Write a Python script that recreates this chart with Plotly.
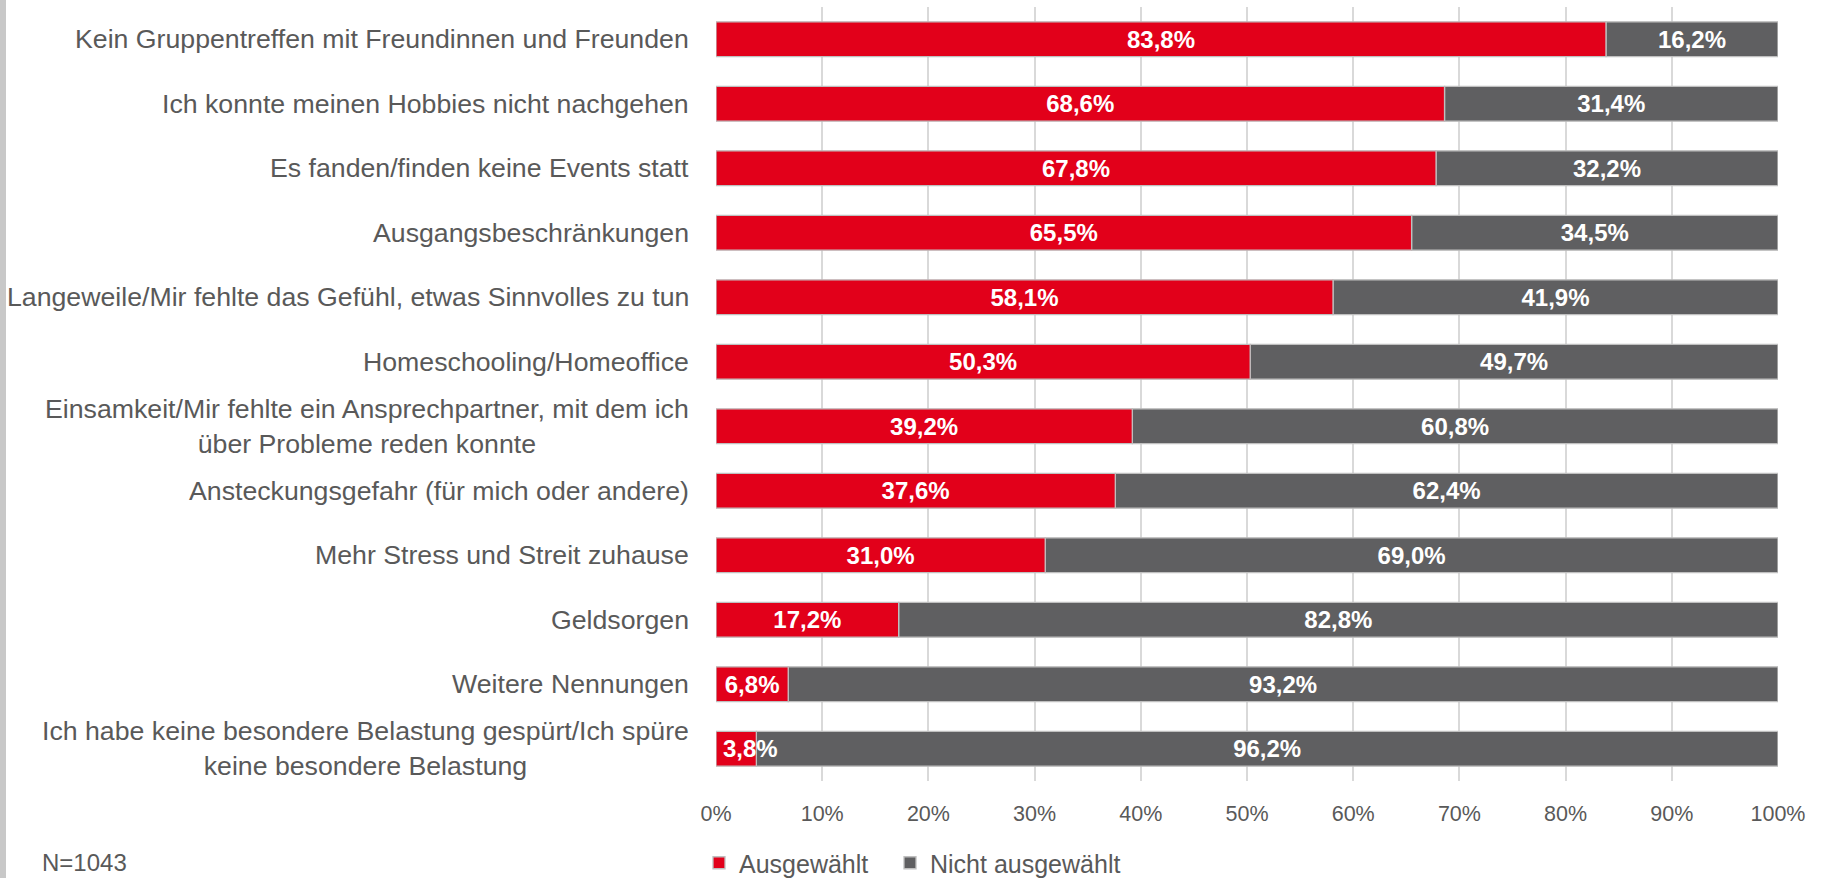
import plotly.graph_objects as go

categories = [
    "Kein Gruppentreffen mit Freundinnen und Freunden",
    "Ich konnte meinen Hobbies nicht nachgehen",
    "Es fanden/finden keine Events statt",
    "Ausgangsbeschränkungen",
    "Langeweile/Mir fehlte das Gefühl, etwas Sinnvolles zu tun",
    "Homeschooling/Homeoffice",
    "Einsamkeit/Mir fehlte ein Ansprechpartner, mit dem ich<br>über Probleme reden konnte",
    "Ansteckungsgefahr (für mich oder andere)",
    "Mehr Stress und Streit zuhause",
    "Geldsorgen",
    "Weitere Nennungen",
    "Ich habe keine besondere Belastung gespürt/Ich spüre<br>keine besondere Belastung",
]
ausgewaehlt = [83.8, 68.6, 67.8, 65.5, 58.1, 50.3, 39.2, 37.6, 31.0, 17.2, 6.8, 3.8]
nicht_ausgewaehlt = [16.2, 31.4, 32.2, 34.5, 41.9, 49.7, 60.8, 62.4, 69.0, 82.8, 93.2, 96.2]
x_ticks = [0, 10, 20, 30, 40, 50, 60, 70, 80, 90, 100]
x_ticklabels = [f"{t}%" for t in x_ticks]
note = "N=1043"

RED = "#E2001A"
GRAY = "#5F5F61"
OUTLINE = "#BFBFBF"
TXT = "#595959"
FONT = "Liberation Sans, Arial, sans-serif"
MIN_INSIDE = 5  # bars narrower than this get their label placed from the axis


def fmt(v):
    return f"{v:.1f}".replace(".", ",") + "%"


W, H = 1827, 878
L, R, T, B = 716, 49, 7, 97
pw = W - L - R
ph = H - T - B
BOTTOM_ROW_Y = 863  # pixel centre of the note / legend row
label_font = dict(family=FONT, size=24, color="white", weight="bold")

fig = go.Figure()
fig.add_trace(go.Bar(
    name="Nicht ausgewählt",
    y=categories, x=nicht_ausgewaehlt, base=ausgewaehlt, orientation="h",
    width=0.54,
    marker=dict(color=GRAY, line=dict(color=OUTLINE, width=1.3)),
    text=[fmt(v) for v in nicht_ausgewaehlt],
    textposition="inside", insidetextanchor="middle", constraintext="none",
    textfont=label_font,
    hoverinfo="skip",
))
fig.add_trace(go.Bar(
    name="Ausgewählt",
    y=categories, x=ausgewaehlt, base=[0] * len(ausgewaehlt), orientation="h",
    width=0.54,
    marker=dict(color=RED, line=dict(color=OUTLINE, width=1.3)),
    text=[fmt(v) for v in ausgewaehlt],
    textposition=["inside" if v >= MIN_INSIDE else "none" for v in ausgewaehlt],
    insidetextanchor="middle", constraintext="none",
    textfont=label_font,
    hoverinfo="skip",
    legendwidth=146,
))

# labels of very narrow red bars, starting just right of the axis
for c, v in zip(categories, ausgewaehlt):
    if v < MIN_INSIDE:
        fig.add_annotation(
            x=0, xref="x", y=c, yref="y", xanchor="left", yanchor="middle",
            xshift=5, text=fmt(v), showarrow=False, font=label_font,
        )

for c in categories:
    fig.add_annotation(
        x=0, xref="paper", y=c, yref="y", xanchor="right", yanchor="middle",
        xshift=-25, text=c, showarrow=False, align="center",
        font=dict(family=FONT, size=26.7, color=TXT),
    )

fig.add_annotation(
    x=(40 - L) / pw, xref="paper", y=(ph + T - BOTTOM_ROW_Y) / ph, yref="paper",
    xanchor="left", yanchor="middle", text=note, showarrow=False,
    font=dict(family=FONT, size=24, color=TXT),
)

fig.add_shape(
    type="rect", xref="paper", yref="paper",
    x0=(0 - L) / pw, x1=(6 - L) / pw, y0=-0.3, y1=1.2,
    fillcolor="#C8C8C8", line=dict(width=0), layer="below",
)

fig.update_layout(
    width=W, height=H,
    margin=dict(l=L, r=R, t=T, b=B, pad=0, autoexpand=False),
    barmode="overlay",
    plot_bgcolor="white", paper_bgcolor="white",
    font=dict(family=FONT, size=25, color=TXT),
    showlegend=True,
    legend=dict(
        orientation="h", traceorder="reversed",
        xref="container", yref="container",
        x=699 / W, xanchor="left",
        y=(H - BOTTOM_ROW_Y) / H, yanchor="middle",
        font=dict(family=FONT, size=25, color=TXT),
        bgcolor="rgba(0,0,0,0)",
    ),
    xaxis=dict(
        range=[0, 100], tickvals=x_ticks, ticktext=x_ticklabels,
        showgrid=True, gridcolor="#D9D9D9", gridwidth=1.5,
        zeroline=False, showline=False, ticks="",
        ticklabelstandoff=17,
        tickfont=dict(family=FONT, size=21.5, color=TXT),
        fixedrange=True,
    ),
    yaxis=dict(
        categoryorder="array", categoryarray=categories,
        range=[len(categories) - 0.5, -0.5],
        showticklabels=False, showgrid=False, zeroline=False, ticks="",
        fixedrange=True,
    ),
)

fig.write_html(
    "out.html",
    config={"displayModeBar": False},
    post_script="document.body.style.margin='0';document.body.style.overflow='hidden';",
)
